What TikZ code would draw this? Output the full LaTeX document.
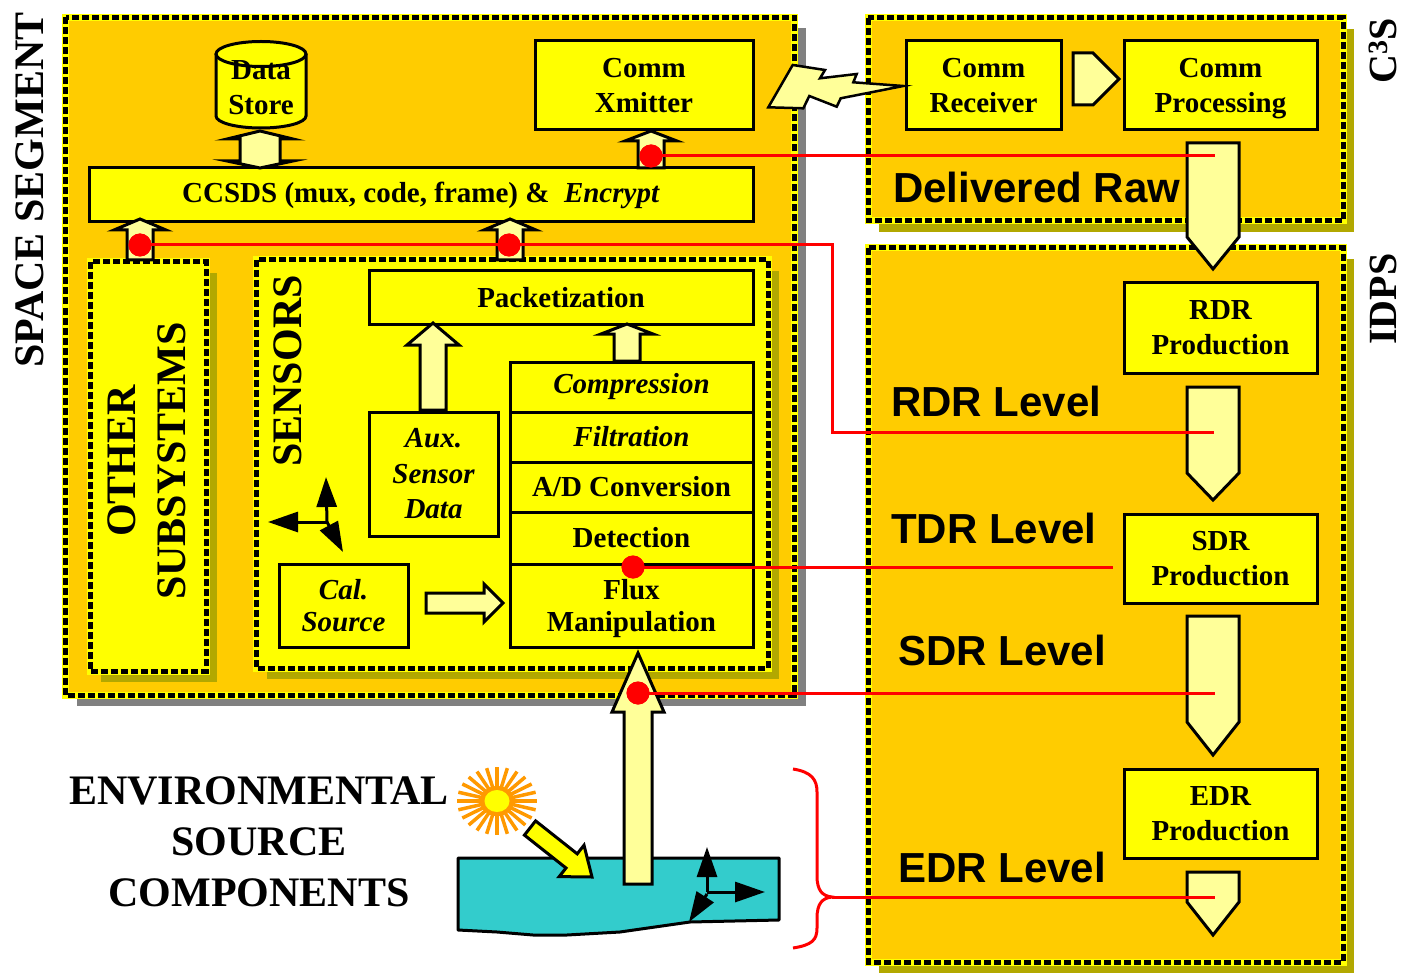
\documentclass[tikz,border=0pt]{standalone}
\usepackage{fontspec}
\setmainfont{Liberation Serif}
\newfontfamily\arialf{Liberation Sans}
\usetikzlibrary{arrows.meta}
\definecolor{segorange}{HTML}{FFCC00}
\definecolor{boxyellow}{HTML}{FFFF00}
\definecolor{arrowyellow}{HTML}{FFFF99}
\definecolor{shadowolive}{HTML}{B2A800}
\definecolor{shadowgray}{HTML}{808080}
\definecolor{watercyan}{HTML}{33CCCC}
\definecolor{sunorange}{HTML}{FF9900}
\definecolor{redline}{HTML}{FF0000}
\newcommand{\boxfont}{\fontsize{29}{35}\selectfont\bfseries}
\newcommand{\titlefont}{\fontsize{42}{50}\selectfont\bfseries}
\newcommand{\nodepth}[1]{\raisebox{0pt}[\height][0pt]{#1}}
\newcommand{\blockup}[6]{\draw[barrow] (#1,#2) -- ({#1+#5},#3) -- ({#1+#6},#3) -- ({#1+#6},#4) -- ({#1-#6},#4) -- ({#1-#6},#3) -- ({#1-#5},#3) -- cycle;}
\newcommand{\blockdown}[4]{\draw[barrow] ({#1-26},#2) -- ({#1+26},#2) -- ({#1+26},#3) -- (#1,#4) -- ({#1-26},#3) -- cycle;}
\newcommand{\framezone}[6]{%
 \fill[#6] ({#1+11},{#2+11}) rectangle ({#3+11},{#4+11});
 \fill[#5] (#1,#2) rectangle (#3,#4);
 \draw[boxyellow, line width=7pt] (#1,#2) rectangle (#3,#4);
 \draw[black, line width=5pt, dash pattern=on 7pt off 3pt] (#1,#2) rectangle (#3,#4);}
\tikzset{
 box/.style={draw=black, line width=3pt, fill=boxyellow, inner sep=0pt, align=center, font=\boxfont},
 barrow/.style={draw=black, line width=3pt, fill=arrowyellow, line join=miter},
 redl/.style={draw=redline, line width=3pt},
 reddot/.style={circle, fill=redline, minimum size=23pt, inner sep=0pt},
 levellabel/.style={font=\arialf\bfseries\fontsize{42}{50}\selectfont, anchor=base west, inner sep=0pt},
 bigtitle/.style={font=\titlefont, inner sep=0pt},
 axarrow/.style={line width=3pt, -{Triangle[length=30pt,width=20pt]}}
}
\begin{document}
\begin{tikzpicture}[x=1pt,y=-1pt]
\useasboundingbox (0,0) rectangle (1404,973);
\fill[white] (0,0) rectangle (1404,973);

% containers
\framezone{65.5}{17.5}{794.5}{695}{segorange}{shadowgray}
\framezone{868}{18}{1343}{221}{segorange}{shadowolive}
\framezone{868}{248}{1343}{962}{segorange}{shadowolive}
\framezone{90}{262}{206}{671}{boxyellow}{shadowolive}
\framezone{256}{260}{768}{668}{boxyellow}{shadowolive}

% boxes
\node[box, minimum width=218pt, minimum height=89pt] (xmit) at (644,85.5) {Comm\\Xmitter};
\node[box, minimum width=664pt, minimum height=54pt] (ccsds) at (421,195) {CCSDS (mux, code, frame) \&\hspace{0.5em}\textit{Encrypt}};
\node[box, minimum width=155pt, minimum height=89pt] (recv) at (983.5,85.5) {Comm\\Receiver};
\node[box, minimum width=193pt, minimum height=89pt] (proc) at (1220.5,85.5) {Comm\\\nodepth{Processing}};
\node[box, minimum width=193pt, minimum height=90pt] (rdrp) at (1220.5,328) {RDR\\Production};
\node[box, minimum width=193pt, minimum height=89pt] (sdrp) at (1220.5,558.5) {SDR\\Production};
\node[box, minimum width=193pt, minimum height=89pt] (edrp) at (1220.5,813.5) {EDR\\Production};
\node[box, minimum width=384pt, minimum height=53pt] (pack) at (561,297.5) {Packetization};
\node[box, minimum width=129pt, minimum height=124pt, font=\boxfont\itshape] (aux) at (433.5,474) {Aux.\\[0.5pt]Sensor\\[0.5pt]Data};
\node[box, minimum width=243pt, minimum height=50pt, font=\boxfont\itshape] (comp) at (631.5,387) {Compression};
\node[box, minimum width=243pt, minimum height=50pt, font=\boxfont\itshape] (filt) at (631.5,437) {Filtration};
\node[box, minimum width=243pt, minimum height=50pt] (adc) at (631.5,487) {A/D Conversion};
\node[box, minimum width=243pt, minimum height=52pt] (det) at (631.5,538) {Detection};
\node[box, minimum width=243pt, minimum height=83pt] (flux) at (631.5,605.5) {Flux\\[-3pt]\nodepth{Manipulation}};
\node[box, minimum width=129pt, minimum height=83pt, font=\boxfont\itshape] (cal) at (343.5,605.5) {Cal.\\[-3pt]Source};

% data store cylinder
\fill[boxyellow] (216,54) -- (216,116) arc[start angle=180, end angle=0, x radius=45, y radius=12] -- (306,54) -- cycle;
\fill[boxyellow] (261,54) ellipse [x radius=45, y radius=12.5];
\draw[black, line width=3pt] (216,54) -- (216,116) arc[start angle=180, end angle=0, x radius=45, y radius=12] -- (306,54);
\node[font=\boxfont, align=center, inner sep=0pt] (store) at (261,88) {Data\\Store};
\draw[black, line width=3pt] (261,54) ellipse [x radius=45, y radius=12.5];

% block arrows
\draw[barrow] (260,131) -- (293,139) -- (280,139) -- (280,161) -- (293,161) -- (260,168) -- (227,161) -- (240,161) -- (240,139) -- (227,139) -- cycle;
\blockup{651}{131}{141}{168}{26}{13}
\blockup{140}{219}{230}{260}{26}{13}
\blockup{510}{219}{230}{260}{26}{13}
\blockup{627}{324}{334}{361}{26}{13}
\blockup{433}{323}{345}{410}{26}{13}
\draw[barrow] (426,593) -- (484,593) -- (484,584) -- (503,603) -- (484,622) -- (484,613) -- (426,613) -- cycle;
\draw[barrow] (1073,53) -- (1093,53) -- (1119,79) -- (1093,105) -- (1073,105) -- cycle;

% lightning
\draw[barrow, line width=2.5pt] (768.3,107.3) -- (792.7,65) -- (825,70) -- (820,78.3) -- (856.7,74) -- (853.3,82.3) -- (903.3,86) -- (840.7,98.3) -- (836.7,106.7) -- (809.3,96) -- (803.3,108.3) -- cycle;

% right column down arrows
\blockdown{1213}{143}{237}{269}
\blockdown{1213}{387}{473}{500}
\blockdown{1213}{616}{722}{755}
\blockdown{1213}{872}{902}{935}

% sensor axes
\coordinate (sax) at (327,522);
\coordinate (saxu) at (326,477);
\coordinate (saxl) at (268,522);
\coordinate (saxd) at (343,552);
\draw[axarrow] (sax) -- (saxu);
\draw[axarrow] (sax) -- (saxl);
\draw[axarrow] (sax) -- (saxd);

% environment
\draw[black, line width=3pt, fill=watercyan, line join=round] (458,858) -- (779,858) -- (779,920) -- (690,922) -- (620,932) -- (567,935) -- (533,935) -- (497,932) -- (458,930) -- cycle;
\blockup{638}{653}{712}{884}{26}{14}
\foreach \a in {0,15,...,345} \draw[sunorange, line width=3.5pt] ({497+13*cos(\a)},{801+11*sin(\a)}) -- ({497+40*cos(\a)},{801+34*sin(\a)});
\fill[sunorange] (497,801) ellipse [x radius=17, y radius=15];
\fill[boxyellow] (497,801) ellipse [x radius=12.5, y radius=11];
\draw[black, line width=3pt, fill=boxyellow, line join=miter] (535.6,820.9) -- (577.2,853.8) -- (584.0,845.2) -- (592,877) -- (559.2,876.6) -- (566.0,868.0) -- (524.4,835.1) -- cycle;
\coordinate (wax) at (707,892);
\coordinate (waxu) at (707,847);
\coordinate (waxr) at (765,892);
\coordinate (waxd) at (689,922);
\draw[axarrow] (wax) -- (waxu);
\draw[axarrow] (wax) -- (waxr);
\draw[axarrow] (707,894) -- (waxd);

% brace
\coordinate (brtip) at (832,897);
\draw[redl] (793,769) .. controls (812,772) and (817,780) .. (817,792) -- (817,876) .. controls (817,890) and (822,896) .. (brtip) .. controls (822,898) and (817,904) .. (817,918) -- (817,928) .. controls (817,940) and (812,945) .. (793,948);

% titles and labels
\node[bigtitle, rotate=90] (spaceseg) at (30,190) {SPACE SEGMENT};
\node[font=\fontsize{40}{50}\selectfont\bfseries, inner sep=0pt, rotate=90] (c3s) at (1383,51) {C\textsuperscript{3}S};
\node[font=\fontsize{40}{50}\selectfont\bfseries, inner sep=0pt, rotate=90] (idps) at (1383,299) {IDPS};
\node[bigtitle, rotate=90, align=center] (other) at (147,461) {OTHER\\SUBSYSTEMS};
\node[bigtitle, rotate=90] (sensors) at (288,371) {SENSORS};
\node[font=\fontsize{42}{51}\selectfont\bfseries, inner sep=0pt, align=center] (env) at (259,842) {ENVIRONMENTAL\\SOURCE\\COMPONENTS};
\node[levellabel] (delraw) at (893,203) {Delivered Raw};
\node[levellabel] (rdrlev) at (891,416) {RDR Level};
\node[levellabel] (tdrlev) at (891,543) {TDR Level};
\node[levellabel] (sdrlev) at (898,665) {SDR Level};
\node[levellabel] (edrlev) at (898,882) {EDR Level};

% red tracing lines
\node[reddot] (d1) at (651,156) {};
\node[reddot] (d2) at (140,245) {};
\node[reddot] (d3) at (509,245) {};
\node[reddot] (d4) at (633,567) {};
\node[reddot] (d5) at (638,693) {};
\coordinate (e1) at (1215,156);
\coordinate (c2a) at (832,245);
\coordinate (c2b) at (832,432);
\coordinate (e2) at (1214,432);
\coordinate (e4) at (1113,567);
\coordinate (e5) at (1215,693);
\coordinate (e6) at (1215,897);
\draw[redl] (d1.center) -- (e1);
\draw[redl] (d2.center) -- (d3.center) -- (c2a) -- (c2b) -- (e2);
\draw[redl] (d4.center) -- (e4);
\draw[redl] (d5.center) -- (e5);
\draw[redl] (brtip) -- (e6);
\node[reddot] at (d1) {};
\node[reddot] at (d2) {};
\node[reddot] at (d3) {};
\node[reddot] at (d4) {};
\node[reddot] at (d5) {};
\end{tikzpicture}
\end{document}
